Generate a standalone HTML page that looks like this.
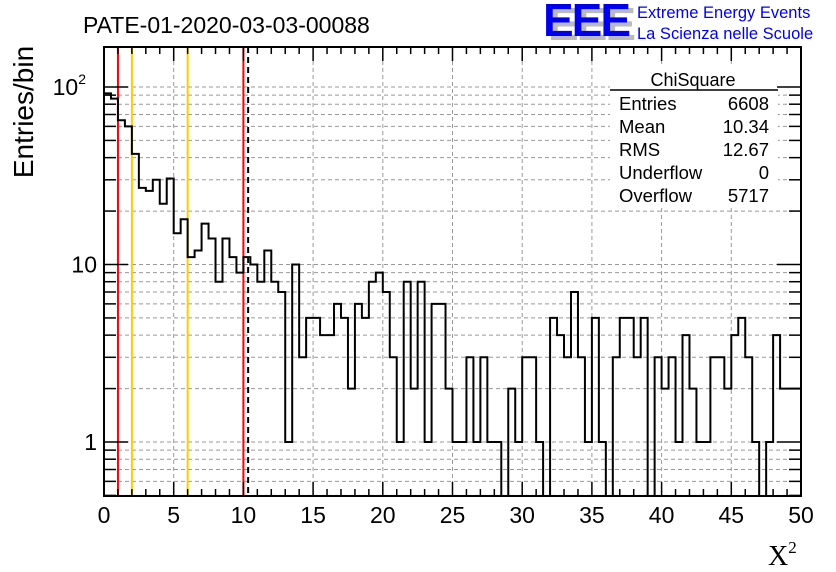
<!DOCTYPE html>
<html><head><meta charset="utf-8"><style>
body{margin:0;background:#fff;}
svg{display:block;font-family:"Liberation Sans",sans-serif;}
</style></head><body>
<svg id="chart" width="836" height="572" viewBox="0 0 836 572" xmlns="http://www.w3.org/2000/svg">
<rect x="0" y="0" width="836" height="572" fill="#fff"/>
<g id="grid"></g>
<g id="lines"></g>
<path id="hist" fill="none" stroke="#000" stroke-width="2"/>
<g id="stats">
<rect x="610" y="64" width="168" height="142" fill="#fff"/>
<text x="693" y="86" font-size="18" text-anchor="middle">ChiSquare</text>
<line x1="610" y1="90" x2="778" y2="90" stroke="#000" stroke-width="1.5"/>
</g>
<rect x="104" y="47" width="697" height="449" fill="none" stroke="#000" stroke-width="2"/>
<g id="axes"></g>
<text x="83" y="33" font-size="23">PATE-01-2020-03-03-00088</text>
<g>
<text x="548" y="40" font-size="46" font-weight="bold" fill="#bbb" letter-spacing="-2">EEE</text>
<text x="543" y="36" font-size="46" font-weight="bold" fill="#0000ee" letter-spacing="-2">EEE</text>
<text x="637" y="18" font-size="16.5" fill="#0000ee">Extreme Energy Events</text>
<text x="637" y="39" font-size="16.5" fill="#0000ee">La Scienza nelle Scuole</text>
</g>
<text transform="translate(33,112) rotate(-90)" font-size="28" text-anchor="middle">Entries/bin</text>
<text x="768" y="565" font-size="28" font-family="Liberation Serif,serif">X<tspan font-size="17" dy="-12">2</tspan></text>
</svg>
<script>
const counts=[92,86,65,60,42,27,26,30,22,30.5,15,18,11,12,17,14,8,14,11,9,11,10,8,12,8,7,1,10,3,5,5,4,4,6,5,2,6,5,8,9,7,3,1,8,2,8,1,6,6,2,1,1,3,1,3,1,1,0,2,1,3,3,1,0,5,4,3,7,3,1,5,1,0,3,5,5,3,5,0,3,2,3,1,4,2,1,1,3,3,2,4,5,3,1,0,1,4,2,2,2];
const xTicks=[0,5,10,15,20,25,30,35,40,45,50];
const statLabels=["Entries","Mean","RMS","Underflow","Overflow"];
const statValues=["6608","10.34","12.67","0","5717"];
const redLines=[1,10];
const orangeLines=[2,6];
const meanLine=10.34;
const binWidth=0.5;
const NS="http://www.w3.org/2000/svg";
const X0=104,X1=801,Y0=496,Y1=47;
const xs=v=>X0+(X1-X0)*v/50;
const ys=v=>442-177.5*Math.log10(v);
function mk(tag,attrs,parent){const e=document.createElementNS(NS,tag);for(const k in attrs)e.setAttribute(k,attrs[k]);parent.appendChild(e);return e;}
const grid=document.getElementById('grid'),axes=document.getElementById('axes'),lines=document.getElementById('lines');
xTicks.forEach(t=>{
  const x=xs(t);
  if(t>0&&t<50){const g=mk('line',{x1:x,x2:x,y1:Y1,y2:Y0,stroke:'#999','stroke-dasharray':'4,3'},grid);
  
  }
  const tk=mk('line',{x1:x,x2:x,y1:Y0,y2:Y0-14,stroke:'#000','stroke-width':1.5},axes);
  
  
  const tk2=mk('line',{x1:x,x2:x,y1:Y1,y2:Y1+14,stroke:'#000','stroke-width':1.5},axes);
  
  
  const lb=mk('text',{x:x,y:523,'font-size':23,'text-anchor':'middle'},axes);lb.textContent=t;
  
  
});
for(let m=1;m<50;m++){if(m%5===0)continue;const x=xs(m);
  const a=mk('line',{x1:x,x2:x,y1:Y0,y2:Y0-7,stroke:'#000','stroke-width':1.5},axes);
  
  
  const b=mk('line',{x1:x,x2:x,y1:Y1,y2:Y1+7,stroke:'#000','stroke-width':1.5},axes);
  
  }
[1,10,100].forEach(dec=>{for(let k=1;k<=9;k++){const v=dec*k;const y=ys(v);if(y<Y1||y>Y0)continue;
  const g=mk('line',{x1:X0,x2:X1,y1:y,y2:y,stroke:'#999','stroke-dasharray':'4,3'},grid);
  
  
  const len=k===1?24:12;
  const a=mk('line',{x1:X0,x2:X0+len,y1:y,y2:y,stroke:'#000','stroke-width':1.5},axes);
  
  
  const b=mk('line',{x1:X1,x2:X1-len,y1:y,y2:y,stroke:'#000','stroke-width':1.5},axes);
  
  }});
[0.5,0.6,0.7,0.8,0.9,200].forEach(v=>{const y=ys(v);if(y<Y1||y>Y0)return;
  const g=mk('line',{x1:X0,x2:X1,y1:y,y2:y,stroke:'#999','stroke-dasharray':'4,3'},grid);
  
  
  const a=mk('line',{x1:X0,x2:X0+12,y1:y,y2:y,stroke:'#000','stroke-width':1.5},axes);
  
  
  const b=mk('line',{x1:X1,x2:X1-12,y1:y,y2:y,stroke:'#000','stroke-width':1.5},axes);
  
  });
[[1,'1'],[10,'10'],[100,'10']].forEach(([v,s],i)=>{const t=mk('text',{x:97,y:ys(v)+8,'font-size':23,'text-anchor':'end'},axes);
  t.textContent=s;
  if(i===2){t.setAttribute('x',86);const sp=mk('tspan',{'font-size':14,dy:-11},t);sp.textContent='2';}
  
  });
redLines.forEach(v=>{const l=mk('line',{x1:xs(v),x2:xs(v),y1:Y1,y2:Y0,stroke:'#f00','stroke-width':2},lines);
  
  });
orangeLines.forEach(v=>{const l=mk('line',{x1:xs(v),x2:xs(v),y1:Y1,y2:Y0,stroke:'#fc0','stroke-width':2},lines);
  
  });
{const l=mk('line',{x1:xs(meanLine),x2:xs(meanLine),y1:Y1,y2:Y0,stroke:'#000','stroke-width':2,'stroke-dasharray':'6,4'},lines);
  
  }
const yv=c=>c>0?Math.max(Y1,Math.min(Y0,ys(c))):Y0;
let d='M'+xs(0)+','+Y0;
counts.forEach((c,i)=>{const y=yv(c);d+=' L'+xs(i*binWidth)+','+y+' L'+xs((i+1)*binWidth)+','+y;});
d+=' L'+xs(counts.length*binWidth)+','+Y0;
document.getElementById('hist').setAttribute('d',d);
const st=document.getElementById('stats');
statLabels.forEach((s,i)=>{const y=110+i*23;
  const a=mk('text',{x:619,y:y,'font-size':18.5},st);a.textContent=s;
  
  
  const b=mk('text',{x:769,y:y,'font-size':18.5,'text-anchor':'end'},st);b.textContent=statValues[i];
  
  });
</script>
</body></html>
